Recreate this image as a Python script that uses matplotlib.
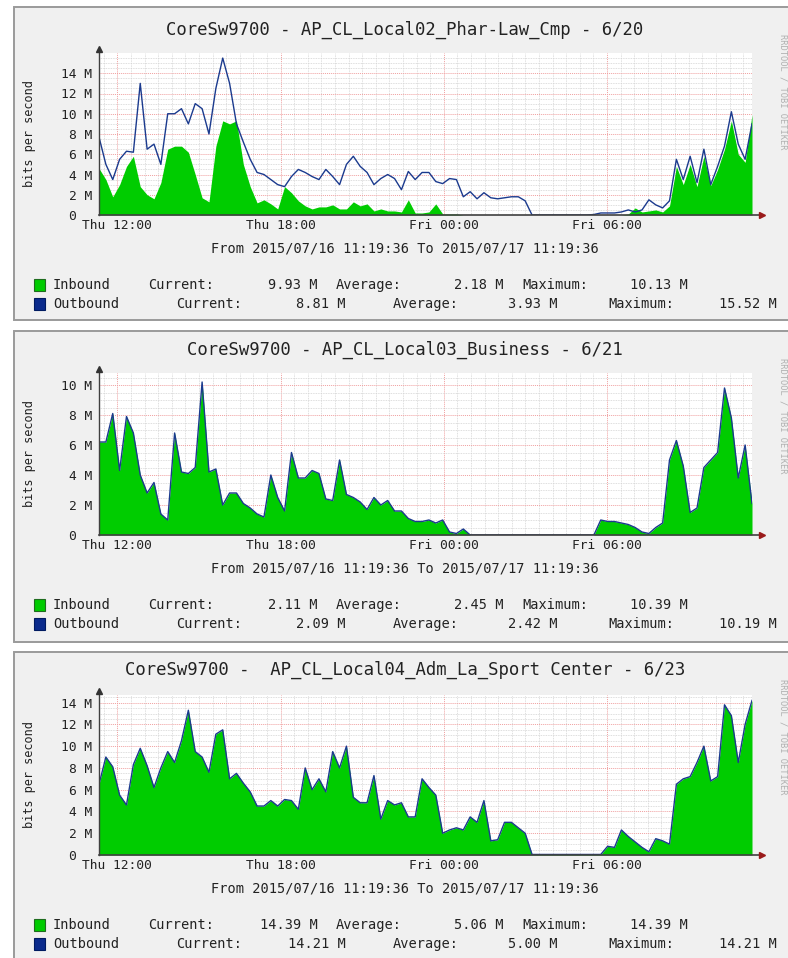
import numpy as np
import matplotlib
matplotlib.use('Agg')
import matplotlib.pyplot as plt
from matplotlib.patches import Rectangle

W, H = 788, 958
MONO = 'DejaVu Sans Mono'

# samples every ~15 min over 24 h, starting 2015/07/16 11:19:36 (values in M bit/s)
p1_inbound = [4.6, 3.5, 1.8, 3.0, 4.8, 5.8, 2.8, 2.0, 1.6, 3.2,
              6.5, 6.8, 6.8, 6.2, 4.0, 1.7, 1.3, 6.8, 9.3, 9.0,
              9.3, 5.0, 2.8, 1.2, 1.5, 1.1, 0.6, 2.8, 2.2, 1.4,
              0.9, 0.6, 0.8, 0.8, 1.0, 0.6, 0.6, 1.3, 0.9, 1.1,
              0.4, 0.6, 0.4, 0.4, 0.3, 1.5, 0.2, 0.2, 0.3, 1.1,
              0.1, 0.1, 0.1, 0.0, 0.0, 0.0, 0.0, 0.0, 0.0, 0.0,
              0.0, 0.0, 0.0, 0.0, 0.0, 0.0, 0.0, 0.0, 0.0, 0.0,
              0.0, 0.0, 0.0, 0.0, 0.0, 0.0, 0.0, 0.1, 0.7, 0.3,
              0.4, 0.5, 0.3, 0.9, 4.8, 3.0, 5.0, 2.8, 5.8, 2.9,
              4.5, 6.5, 9.3, 6.0, 5.2, 9.9]
p1_outbound = [7.7, 5.0, 3.5, 5.5, 6.3, 6.2, 13.0, 6.5, 7.0, 5.0,
               10.0, 10.0, 10.5, 9.0, 11.0, 10.5, 8.0, 12.5, 15.5, 13.0,
               9.0, 7.2, 5.5, 4.2, 4.0, 3.5, 3.0, 2.8, 3.8, 4.5,
               4.2, 3.8, 3.5, 4.5, 3.8, 3.0, 5.0, 5.8, 4.8, 4.2,
               3.0, 3.6, 4.0, 3.6, 2.5, 4.3, 3.5, 4.2, 4.2, 3.3,
               3.1, 3.6, 3.5, 1.8, 2.3, 1.6, 2.2, 1.7, 1.6, 1.7,
               1.8, 1.8, 1.4, 0.0, 0.0, 0.0, 0.0, 0.0, 0.0, 0.0,
               0.0, 0.0, 0.05, 0.2, 0.2, 0.2, 0.3, 0.5, 0.3, 0.5,
               1.5, 1.0, 0.7, 1.4, 5.5, 3.5, 5.8, 3.2, 6.5, 3.0,
               4.8, 6.8, 10.2, 7.0, 5.5, 9.0]
# panels 2 and 3: inbound and outbound lie on top of each other
p2_traffic = [6.2, 6.2, 8.1, 4.3, 7.9, 6.8, 4.0, 2.8, 3.5, 1.4,
              1.0, 6.8, 4.2, 4.1, 4.5, 10.2, 4.2, 4.4, 2.0, 2.8,
              2.8, 2.1, 1.8, 1.4, 1.2, 4.0, 2.5, 1.6, 5.5, 3.8,
              3.8, 4.3, 4.1, 2.4, 2.3, 5.0, 2.7, 2.5, 2.2, 1.7,
              2.5, 2.0, 2.3, 1.6, 1.6, 1.1, 0.9, 0.9, 1.0, 0.8,
              1.0, 0.2, 0.1, 0.4, 0.0, 0.0, 0.0, 0.0, 0.0, 0.0,
              0.0, 0.0, 0.0, 0.0, 0.0, 0.0, 0.0, 0.0, 0.0, 0.0,
              0.0, 0.0, 0.0, 1.0, 0.9, 0.9, 0.8, 0.7, 0.5, 0.2,
              0.1, 0.5, 0.8, 5.0, 6.3, 4.6, 1.5, 1.8, 4.5, 5.0,
              5.5, 9.8, 7.8, 3.8, 6.0, 2.1]
p3_traffic = [6.5, 9.0, 8.1, 5.5, 4.6, 8.3, 9.8, 8.2, 6.2, 8.0,
              9.5, 8.5, 10.5, 13.3, 9.5, 9.0, 7.6, 11.1, 11.5, 7.0,
              7.5, 6.6, 5.8, 4.5, 4.5, 5.0, 4.5, 5.1, 5.0, 4.2,
              8.0, 6.0, 7.0, 5.8, 9.5, 8.0, 10.0, 5.3, 4.8, 4.8,
              7.3, 3.3, 5.0, 4.6, 4.8, 3.5, 3.5, 7.0, 6.2, 5.5,
              2.0, 2.3, 2.5, 2.3, 3.5, 3.0, 5.0, 1.3, 1.4, 3.0,
              3.0, 2.5, 2.0, 0.05, 0.05, 0.05, 0.05, 0.05, 0.05, 0.05,
              0.05, 0.05, 0.05, 0.05, 0.8, 0.7, 2.3, 1.7, 1.2, 0.7,
              0.3, 1.5, 1.3, 1.0, 6.5, 7.0, 7.2, 8.5, 10.0, 6.8,
              7.2, 13.8, 12.8, 8.5, 12.0, 14.2]

titles = ['CoreSw9700 - AP_CL_Local02_Phar-Law_Cmp - 6/20',
          'CoreSw9700 - AP_CL_Local03_Business - 6/21',
          'CoreSw9700 -  AP_CL_Local04_Adm_La_Sport Center - 6/23']
y_max = [16.0, 10.8, 14.7]
y_ticks = [[0, 2, 4, 6, 8, 10, 12, 14], [0, 2, 4, 6, 8, 10], [0, 2, 4, 6, 8, 10, 12, 14]]
x_tick_hours = [0.6733, 6.6733, 12.6733, 18.6733]
x_tick_labels = ['Thu 12:00', 'Thu 18:00', 'Fri 00:00', 'Fri 06:00']
period_text = 'From 2015/07/16 11:19:36 To 2015/07/17 11:19:36'
stats_in = [['9.93 M', '2.18 M', '10.13 M'],
            ['2.11 M', '2.45 M', '10.39 M'],
            ['14.39 M', '5.06 M', '14.39 M']]
stats_out = [['8.81 M', '3.93 M', '15.52 M'],
             ['2.09 M', '2.42 M', '10.19 M'],
             ['14.21 M', '5.00 M', '14.21 M']]

inbound = [p1_inbound, p2_traffic, p3_traffic]
outbound = [p1_outbound, p2_traffic, p3_traffic]

# layout in pixels
panel_box = [(7, 320), (331, 642), (652, 990)]
zero_px = [215, 535, 855]
top_px = [53, 373, 695]
x_left, x_right = 99, 752


def fx(x):
    return x / W


def fy(y):
    return 1 - y / H


fig = plt.figure(figsize=(W / 100, H / 100), dpi=100)
fig.patch.set_facecolor('white')

t = np.linspace(0, 24, len(p1_inbound))

for k in range(3):
    top, bot = panel_box[k]
    fig.patches.append(Rectangle((fx(14), fy(bot)), fx(820) - fx(14), (bot - top) / H,
                                 transform=fig.transFigure, facecolor='#f0f0f0',
                                 edgecolor='#9a9a9a', lw=1.4, zorder=-5))
    z = zero_px[k]
    ph = z - top_px[k]
    ax = fig.add_axes([fx(x_left), fy(z), (x_right - x_left) / W, ph / H], zorder=2)
    ax.set_facecolor('white')
    ax.set_xlim(0, 24)
    ax.set_ylim(0, y_max[k])
    for s in ax.spines.values():
        s.set_visible(False)

    # grid
    ax.set_xticks(np.arange(0.1733, 24, 0.5), minor=True)
    ax.set_yticks(np.arange(0, y_max[k], 0.5), minor=True)
    ax.set_xticks(x_tick_hours, x_tick_labels)
    ax.set_yticks(y_ticks[k], [('%d M' % v) if v else '' for v in y_ticks[k]])
    ax.grid(which='minor', color='#d4d4d4', lw=0.6, ls=(0, (1, 1)))
    ax.grid(which='major', color='#f0a0a0', lw=0.7, ls=(0, (1, 1)))
    ax.set_axisbelow(True)
    ax.tick_params(which='both', length=0)
    ax.tick_params(axis='x', pad=3, labelsize=9.3, labelcolor='#222222')
    ax.tick_params(axis='y', pad=5, labelsize=9.3, labelcolor='#222222')
    for lab in ax.get_xticklabels() + ax.get_yticklabels():
        lab.set_family(MONO)
    # the zero label sits left of the others in rrdtool output
    fig.text(fx(72), fy(z + 2), '0', family=MONO, fontsize=9.3, color='#222222',
             ha='center', va='center')

    ax.fill_between(t, inbound[k], color='#00cc00', lw=0, zorder=2)
    ax.plot(t, outbound[k], color='#1b3a8e', lw=1.0, zorder=3)

    # axes with arrows
    ax.plot([0, 24.3], [0, 0], color='#404040', lw=1.2, clip_on=False, zorder=4)
    ax.plot([24.35], [0], marker='>', color='#9a1a1a', ms=4, clip_on=False, zorder=5)
    ax.plot([0, 0], [0, y_max[k] * 1.01], color='#404040', lw=1.0, clip_on=False, zorder=4)
    ax.plot([0], [y_max[k] * 1.025], marker='^', color='#333333', ms=4, clip_on=False, zorder=5)

    # texts
    fig.text(fx(405), fy(z - 185), titles[k], family=MONO, fontsize=12.4,
             color='#222222', ha='center', va='center')
    fig.text(fx(30), fy((z + top_px[k]) / 2), 'bits per second', family=MONO,
             fontsize=8.6, rotation=90, color='#222222', ha='center', va='center')
    fig.text(fx(783), fy(top + 85), 'RRDTOOL / TOBI OETIKER', family=MONO,
             fontsize=6.3, rotation=-90, color='#b0b0b0', ha='center', va='center')
    fig.text(fx(405), fy(z + 34), period_text, family=MONO, fontsize=9.8,
             color='#222222', ha='center', va='center')

    r1 = z + 70
    r2 = z + 89
    fig.patches.append(Rectangle((fx(34), fy(r1 + 6)), 11 / W, 12 / H, transform=fig.transFigure,
                                 facecolor='#00cc00', edgecolor='#1f6b1f', lw=0.8))
    fig.patches.append(Rectangle((fx(34), fy(r2 + 6)), 11 / W, 12 / H, transform=fig.transFigure,
                                 facecolor='#0b2a8c', edgecolor='#001a60', lw=0.8))
    row1 = [(53, 'Inbound', 'left'), (148, 'Current:', 'left'), (318, stats_in[k][0], 'right'),
            (336, 'Average:', 'left'), (504, stats_in[k][1], 'right'),
            (522, 'Maximum:', 'left'), (688, stats_in[k][2], 'right')]
    row2 = [(53, 'Outbound', 'left'), (176, 'Current:', 'left'), (346, stats_out[k][0], 'right'),
            (393, 'Average:', 'left'), (557, stats_out[k][1], 'right'),
            (608, 'Maximum:', 'left'), (777, stats_out[k][2], 'right')]
    for yy, row in ((r1, row1), (r2, row2)):
        for xx, txt, ha in row:
            fig.text(fx(xx), fy(yy), txt, family=MONO, fontsize=9.8,
                     color='#222222', ha=ha, va='center')

fig.savefig('out.png', dpi=100)
